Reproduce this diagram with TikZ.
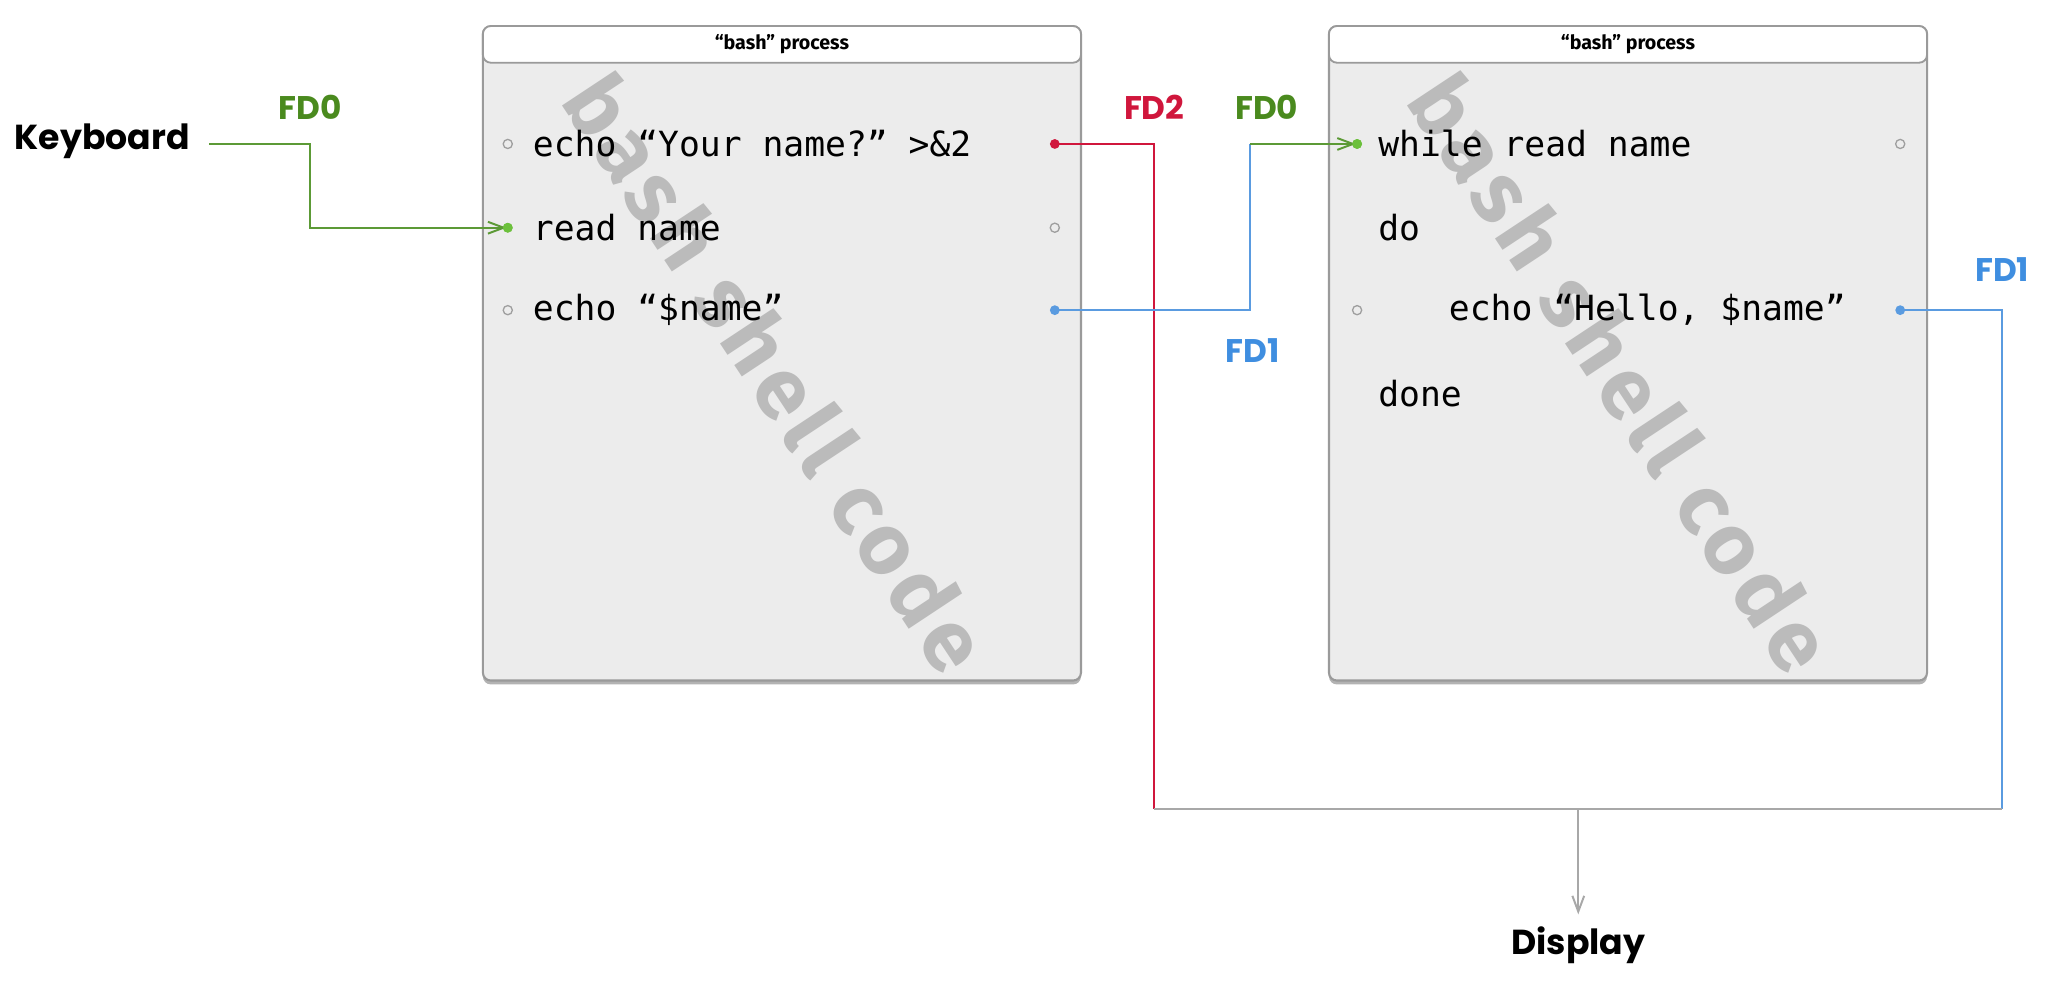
\documentclass[tikz,border=0pt]{standalone}
\usepackage{fontspec}
\setmainfont{Fira Sans}
\setmonofont{DejaVu Sans Mono}
\newfontfamily\lblfont{Poppins}
\newfontfamily\wmfont[LetterSpace=8]{Fira Sans}
\usetikzlibrary{arrows.meta,shadows}
\definecolor{boxfill}{HTML}{ECECEC}
\definecolor{boxline}{HTML}{9A9A9A}
\definecolor{fdgreen}{HTML}{4A8A1E}
\definecolor{lngreen}{HTML}{5C9A36}
\definecolor{dotgreen}{HTML}{6CC03C}
\definecolor{fdred}{HTML}{D0163C}
\definecolor{fdblue}{HTML}{3F8EE0}
\definecolor{lnblue}{HTML}{5A9BE0}
\definecolor{wm}{HTML}{BBBBBB}
\definecolor{lngray}{HTML}{A8A8A8}
\tikzset{
  procbox/.style={draw=boxline, line width=1.6pt, fill=boxfill, rounded corners=6pt,
    minimum width=457pt, minimum height=500pt, inner sep=0pt,
    drop shadow={shadow xshift=0pt, shadow yshift=-3pt, opacity=0.6}},
  titlebar/.style={draw=boxline, line width=1.4pt, fill=white, rounded corners=6pt,
    minimum width=457pt, minimum height=28pt, inner sep=0pt, anchor=north,
    font=\fontsize{15}{15}\selectfont\bfseries},
  code/.style={anchor=west, inner sep=0pt, font=\fontsize{26.5}{26.5}\selectfont\ttfamily},
  watermark/.style={text=wm, font=\fontsize{66}{66}\selectfont\wmfont\bfseries, rotate=-56.5, inner sep=0pt},
  port/.style={circle, draw=gray!75, fill=none, line width=1pt, minimum size=7pt, inner sep=0pt},
  pdot/.style={circle, minimum size=7.5pt, inner sep=0pt},
  lbl/.style={font=\fontsize{25}{25}\selectfont\lblfont\bfseries, inner sep=0pt},
  ext/.style={font=\fontsize{26.5}{26.5}\selectfont\lblfont\bfseries, inner sep=0pt},
  wire/.style={line width=1.5pt},
  arr/.style={-{Straight Barb[length=12pt,width=9pt,line width=1.5pt]}},
}
\begin{document}
\begin{tikzpicture}[x=1pt,y=-1pt]
\useasboundingbox (0,0) rectangle (1568,753);

% ---- boxes
\node[procbox] (box1) at (597.5,270) {};
\node[titlebar] (t1) at (box1.north) {“bash” process};
\node[procbox] (box2) at (1244,270) {};
\node[titlebar] (t2) at (box2.north) {“bash” process};

% ---- watermarks
\node[watermark] (wm1) at (594,285) {bash shell code};
\node[watermark] (wm2) at (1240,285) {bash shell code};

% ---- code, box 1
\node[code] (c11) at (407,110) {echo “Your name?” >\&2};
\node[code] (c12) at (407,174) {read name};
\node[code] (c13) at (407,237) {echo “\$name”};
% ---- code, box 2
\node[code] (c21) at (1053,110) {while read name};
\node[code] (c22) at (1053,174) {do};
\node[code] (c23) at (1107,237) {echo “Hello, \$name”};
\node[code] (c24) at (1053,301) {done};

% ---- ports box 1
\node[port] (p11l) at (388,110) {};
\node[pdot, fill=fdred] (p11r) at (806,110) {};
\node[pdot, fill=dotgreen] (p12l) at (388,174) {};
\node[port] (p12r) at (806,174) {};
\node[port] (p13l) at (388,237) {};
\node[pdot, fill=lnblue] (p13r) at (806,237) {};
% ---- ports box 2
\node[pdot, fill=dotgreen] (p21l) at (1037,110) {};
\node[port] (p21r) at (1452,110) {};
\node[port] (p23l) at (1037,237) {};
\node[pdot, fill=lnblue] (p23r) at (1452,237) {};

% ---- external nodes
\node[ext] (kb) at (78,108) {Keyboard};
\node[ext] (disp) at (1206,722) {Display};

% ---- labels
\node[lbl, text=fdgreen] (fd0a) at (237,82) {FD0};
\node[lbl, text=fdred] (fd2) at (882,82) {FD2};
\node[lbl, text=fdgreen] (fd0b) at (968,82) {FD0};
\node[lbl, text=fdblue] (fd1a) at (957,268) {FD1};
\node[lbl, text=fdblue] (fd1b) at (1530,206) {FD1};

% ---- corner coordinates
\coordinate (k0) at (160,110);
\coordinate (k1) at (237,110);
\coordinate (r1) at (882,110);
\coordinate (r2) at (882,618);
\coordinate (b1) at (955,237);
\coordinate (b2) at (955,110);
\coordinate (b3) at (1530,237);
\coordinate (b4) at (1530,618);
\coordinate (m) at (1206,618);

% ---- connectors
\draw[wire, lngreen, arr, shorten >=1pt] (k0) -- (k1) |- (p12l.center);
\draw[wire, fdred] (p11r.center) -- (r1) -- (r2);
\draw[wire, lnblue] (p13r.center) -- (b1) -- (b2);
\draw[wire, lngreen, arr, shorten >=1pt] (b2) -- (p21l.center);
\draw[wire, lnblue] (p23r.center) -- (b3) -- (b4);
\draw[wire, lngray] (r2) -- (b4);
\draw[wire, lngray, arr, shorten >=9pt] (m) -- (disp.north);

% redraw dots on top of arrows
\node[pdot, fill=dotgreen] at (p12l) {};
\node[pdot, fill=dotgreen] at (p21l) {};
\end{tikzpicture}
\end{document}
